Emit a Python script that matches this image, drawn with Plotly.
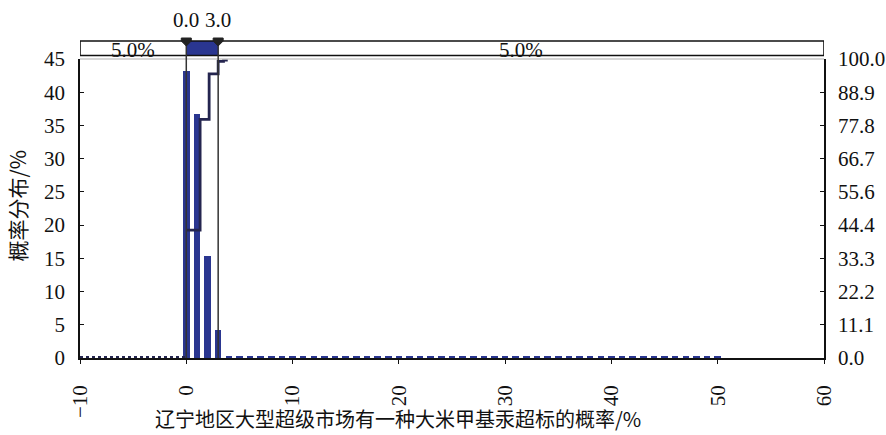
import plotly.graph_objects as go

# ---------------- data ----------------
bar_x = list(range(0, 51))
bar_y = [43.2, 36.7, 15.3, 4.2,
         0.35, 0.2, 0.25, 0.2, 0.3, 0.2, 0.3, 0.25, 0.3, 0.2,
         0.3, 0.25, 0.2, 0.3, 0.25, 0.3, 0.2, 0.3, 0.25, 0.3,
         0.2, 0.3, 0.25, 0.3, 0.2, 0.25, 0.3, 0.2, 0.3, 0.25,
         0.3, 0.2, 0.3, 0.25, 0.2, 0.3, 0.25, 0.3, 0.2, 0.3,
         0.25, 0.3, 0.2, 0.3, 0.25, 0.2, 0.25]
cum_x = [0, 1.3, 2.15, 3.0, 3.5, 3.9]
cum_y = [42.8, 79.8, 95.0, 99.2, 99.6, 99.6]
zero_x = [-10, 0]
zero_y = [0.15, 0.15]
x_ticks = [-10, 0, 10, 20, 30, 40, 50, 60]
left_ticks = [0, 5, 10, 15, 20, 25, 30, 35, 40, 45]
right_ticks = [k * 100 / 9 for k in range(10)]
right_labels = ["%.1f" % v for v in right_ticks]
delim_left, delim_right = 0.0, 3.0
pct_left, pct_right = 5.0, 5.0
x_min, x_max = -10, 60

NAVY = "#2a3690"
DARK = "#24254f"
SERIF = "Liberation Serif"
CJK = "Noto Sans CJK SC"
NUM = 21

fig = go.Figure()
fig.add_trace(go.Bar(x=bar_x, y=bar_y, width=0.62, marker_color=NAVY,
                     marker_line_width=0, showlegend=False))
fig.add_trace(go.Scatter(x=zero_x, y=zero_y, mode="lines",
                         line=dict(color=DARK, width=2, dash="dot"), showlegend=False))
fig.add_trace(go.Scatter(x=cum_x, y=cum_y, mode="lines", line_shape="hv",
                         line=dict(color=DARK, width=2.8), yaxis="y2", showlegend=False))

band_top, band_bot = 1.0602, 1.0117
shapes = [
    dict(type="line", xref="paper", yref="paper", x0=0, x1=1, y0=1.0, y1=1.0,
         line=dict(color="#c8c8c8", width=1.5)),
    dict(type="rect", xref="x", yref="paper", x0=delim_left, x1=delim_right,
         y0=band_bot, y1=band_top, fillcolor=NAVY, line_width=0),
    dict(type="rect", xref="x", yref="paper", x0=x_min, x1=x_max,
         y0=band_bot, y1=band_top, line=dict(color="#111111", width=1.6)),
    dict(type="line", xref="x", yref="paper", x0=delim_left, x1=delim_left, y0=0, y1=band_top,
         line=dict(color="#333333", width=1.5)),
    dict(type="line", xref="x", yref="paper", x0=delim_right, x1=delim_right, y0=0, y1=band_top,
         line=dict(color="#333333", width=1.5)),
]
for d in (delim_left, delim_right):
    shapes.append(dict(type="path", xref="x", yref="paper",
                       xsizemode="pixel", ysizemode="pixel",
                       xanchor=d, yanchor=band_top,
                       path="M -5,3 L 5,3 L 5,0 L 0,-5 L -5,0 Z",
                       fillcolor="#222222", line=dict(color="#222222", width=1)))

annotations = [
    dict(x=delim_left, y=1.13, xref="x", yref="paper", text="%.1f" % delim_left,
         xanchor="center", yanchor="middle",
         showarrow=False, font=dict(family=SERIF, size=NUM, color="#111")),
    dict(x=delim_right, y=1.13, xref="x", yref="paper", text="%.1f" % delim_right,
         xanchor="center", yanchor="middle",
         showarrow=False, font=dict(family=SERIF, size=NUM, color="#111")),
    dict(x=(x_min + delim_left) / 2, y=1.03, xref="x", yref="paper", text="%.1f%%" % pct_left,
         xanchor="center", yanchor="middle",
         showarrow=False, font=dict(family=SERIF, size=NUM, color="#111")),
    dict(x=(delim_right + x_max) / 2, y=1.03, xref="x", yref="paper", text="%.1f%%" % pct_right,
         xanchor="center", yanchor="middle",
         showarrow=False, font=dict(family=SERIF, size=NUM, color="#111")),
    dict(x=-0.086, y=0.51, xref="paper", yref="paper", text="概率分布/%", textangle=-90,
         xanchor="center", yanchor="middle",
         showarrow=False, font=dict(family=CJK, size=21, color="#111")),
    dict(x=0.427, y=-0.203, xref="paper", yref="paper",
         text="辽宁地区大型超级市场有一种大米甲基汞超标的概率/%",
         xanchor="center", yanchor="middle",
         showarrow=False, font=dict(family=CJK, size=20, color="#111")),
]

fig.update_layout(
    width=886, height=435, autosize=False,
    margin=dict(l=80, r=62, t=59, b=77),
    paper_bgcolor="white", plot_bgcolor="white",
    bargap=0, showlegend=False,
    shapes=shapes, annotations=annotations,
    xaxis=dict(range=[x_min, x_max], tickvals=x_ticks, tickangle=-90,
               ticks="outside", ticklen=4, tickcolor="#111", automargin=False,
               showline=True, linecolor="#111", linewidth=1.5,
               showgrid=False, zeroline=False, ticklabelstandoff=13,
               tickfont=dict(family=SERIF, size=NUM, color="#111")),
    yaxis=dict(range=[0, 45], tickvals=left_ticks, ticks="inside", ticklen=4,
               tickcolor="#111", showline=True, linecolor="#111", linewidth=1.5,
               showgrid=False, zeroline=False, ticklabelstandoff=9, automargin=False,
               tickfont=dict(family=SERIF, size=NUM, color="#111")),
    yaxis2=dict(range=[0, 100], overlaying="y", side="right", tickvals=right_ticks,
                ticktext=right_labels, ticks="inside", ticklen=4, tickcolor="#111",
                showline=True, linecolor="#111", linewidth=1.5, automargin=False,
                showgrid=False, zeroline=False, ticklabelstandoff=8,
                tickfont=dict(family=SERIF, size=NUM, color="#111")),
)

fig.write_html("out.html")
